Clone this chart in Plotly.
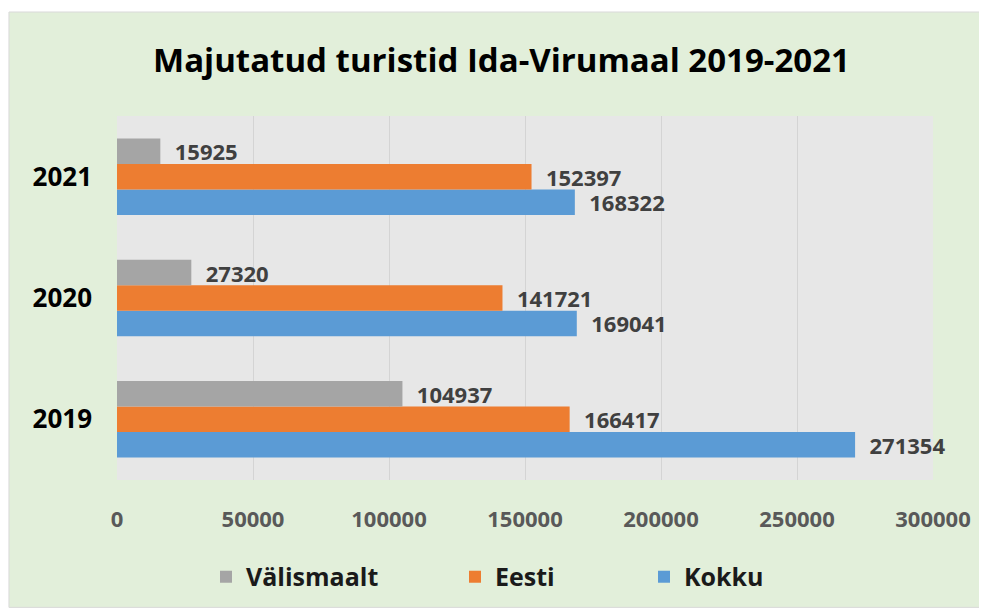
import plotly.graph_objects as go

# Data
years = ["2019", "2020", "2021"]
kokku = [271354, 169041, 168322]
eesti = [166417, 141721, 152397]
valismaalt = [104937, 27320, 15925]
x_ticks = [0, 50000, 100000, 150000, 200000, 250000, 300000]

FONT = "Open Sans"
COLORS = {"Kokku": "#5B9BD5", "Eesti": "#ED7D31", "Välismaalt": "#A5A5A5"}

fig = go.Figure()

# first trace is drawn at the bottom of each group
series = [("Kokku", kokku, "legend3"), ("Eesti", eesti, "legend2"), ("Välismaalt", valismaalt, "legend")]
for name, vals, leg in series:
    fig.add_trace(go.Bar(
        y=years, x=vals, name=name, orientation="h",
        marker=dict(color=COLORS[name], line=dict(width=0)),
        text=["\u00a0\u00a0" + str(v) for v in vals],
        textposition="outside", constraintext="none", cliponaxis=False,
        textfont=dict(family=FONT, size=22, color="#404040", weight="bold"),
        legend=leg, showlegend=True,
    ))

# one legend per series so each entry sits where the original has it
legend_common = dict(
    orientation="h", xref="container", yref="container",
    yanchor="middle", y=0.0657, xanchor="left",
    bgcolor="rgba(0,0,0,0)",
    font=dict(family=FONT, size=25, color="#1a1a1a", weight="bold"),
)

# the page sits 8px in from the top left corner, margins take that into account
fig.update_layout(
    width=987, height=609,
    margin=dict(l=109, r=62, t=108, b=137),
    paper_bgcolor="white",
    plot_bgcolor="#E7E7E7",
    showlegend=True,
    barmode="group", bargap=0.37, bargroupgap=0,
    title=dict(
        text="Majutatud turistid Ida-Virumaal 2019-2021",
        x=0.5, xanchor="center", y=1 - 52 / 609, yanchor="middle",
        font=dict(family=FONT, size=33, color="black", weight="bold"),
    ),
    xaxis=dict(
        range=[0, 300000], tickvals=x_ticks, tickformat="d", showgrid=True,
        gridcolor="#D4D4D4", gridwidth=1, zeroline=False, showline=False,
        ticklabelstandoff=24,
        tickfont=dict(family=FONT, size=22, color="#595959", weight="bold"),
    ),
    yaxis=dict(
        showgrid=False, showline=False, zeroline=False,
        ticklabelstandoff=24,
        tickfont=dict(family=FONT, size=26, color="black", weight="bold"),
    ),
    legend=dict(x=0.2006, **legend_common),
    legend2=dict(x=0.4529, **legend_common),
    legend3=dict(x=0.6444, **legend_common),
    shapes=[
        # green chart area with thin border
        dict(type="rect", xref="paper", yref="paper", layer="below",
             x0=-0.1324, x1=1.07, y0=-0.35, y1=1.2857,
             fillcolor="#E2EFDA", line=dict(color="#D9D9D9", width=1)),
        # gray plot area
        dict(type="rect", xref="paper", yref="paper", layer="below",
             x0=0, x1=1, y0=0, y1=1,
             fillcolor="#E7E7E7", line=dict(width=0)),
    ],
)

fig.write_html("out.html")
